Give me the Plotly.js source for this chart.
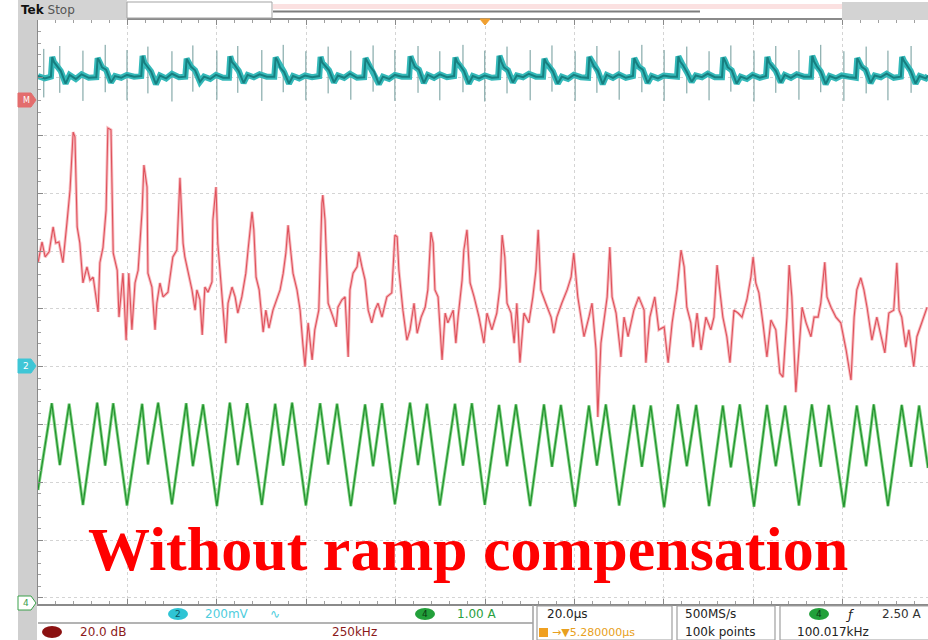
<!DOCTYPE html>
<html><head><meta charset="utf-8">
<script src="https://cdn.plot.ly/plotly-3.0.1.min.js"></script>
<style>html,body{margin:0;padding:0;background:#fff;}#chart{width:928px;height:640px;}</style>
</head><body><div id="chart"></div>
<script>
// ---------- data (time in µs, level in screen divisions) ----------
const tealT = [0, 1.5,
 2.9, 3.2, 3.6, 4.2, 5.1, 6.2, 7.1, 8.5, 9.8, 11.4,
 13.1, 13.4, 13.8, 14.4, 15.3, 16.4, 17.3, 18.7, 20.0, 21.6,
 23.2, 23.5, 23.9, 24.5, 25.4, 26.5, 27.4, 28.8, 30.1, 31.7,
 33.1, 33.4, 33.8, 34.4, 35.3, 36.4, 37.3, 38.7, 40.0, 41.6,
 42.9, 43.2, 43.6, 44.2, 45.1, 46.2, 47.1, 48.5, 49.8, 51.4,
 53.1, 53.4, 53.8, 54.4, 55.3, 56.4, 57.3, 58.7, 60.0, 61.6,
 63.2, 63.5, 63.9, 64.5, 65.4, 66.5, 67.4, 68.8, 70.1, 71.7,
 73.3, 73.6, 74.0, 74.6, 75.5, 76.6, 77.5, 78.9, 80.2, 81.8,
 83.4, 83.7, 84.1, 84.7, 85.6, 86.7, 87.6, 89.0, 90.3, 91.9,
 93.5, 93.8, 94.2, 94.8, 95.7, 96.8, 97.7, 99.1, 100.4, 102.0,
 103.4, 103.7, 104.1, 104.7, 105.6, 106.7, 107.6, 109.0, 110.3, 111.9,
 113.5, 113.8, 114.2, 114.8, 115.7, 116.8, 117.7, 119.1, 120.4, 122.0,
 123.6, 123.9, 124.3, 124.9, 125.8, 126.9, 127.8, 129.2, 130.5, 132.1,
 133.7, 134.0, 134.4, 135.0, 135.9, 137.0, 137.9, 139.3, 140.6, 142.2,
 143.6, 143.9, 144.3, 144.9, 145.8, 146.9, 147.8, 149.2, 150.5, 152.1,
 153.7, 154.0, 154.4, 155.0, 155.9, 157.0, 157.9, 159.3, 160.6, 162.2,
 163.6, 163.9, 164.3, 164.9, 165.8, 166.9, 167.8, 169.2, 170.5, 172.1,
 173.7, 174.0, 174.4, 175.0, 175.9, 177.0, 177.9, 179.3, 180.6, 182.2,
 183.8, 184.1, 184.5, 185.1, 186.0, 187.1, 188.0, 189.4, 190.7, 192.3,
 193.9, 194.2, 194.6, 195.2, 196.1, 197.2, 198.1, 199.5, 200.0];
const tealV = [4.03, 3.99,
 4.02, 4.36, 4.27, 4.21, 4.12, 3.90, 4.05, 3.98, 4.06, 4.00,
 4.01, 4.34, 4.29, 4.18, 4.14, 3.92, 4.03, 4.00, 4.05, 4.02,
 4.03, 4.38, 4.26, 4.20, 4.11, 3.89, 4.04, 3.99, 4.07, 4.01,
 4.02, 4.33, 4.28, 4.19, 4.13, 3.93, 4.02, 3.98, 4.05, 4.00,
 4.00, 4.37, 4.27, 4.22, 4.12, 3.91, 4.05, 4.01, 4.06, 4.02,
 4.02, 4.35, 4.30, 4.18, 4.10, 3.90, 4.03, 3.99, 4.04, 4.01,
 4.03, 4.36, 4.26, 4.21, 4.13, 3.92, 4.04, 4.00, 4.07, 4.00,
 4.01, 4.34, 4.28, 4.20, 4.11, 3.89, 4.02, 3.98, 4.05, 4.02,
 4.02, 4.37, 4.29, 4.19, 4.14, 3.91, 4.05, 4.00, 4.06, 4.01,
 4.03, 4.35, 4.27, 4.22, 4.12, 3.90, 4.03, 3.99, 4.04, 4.00,
 4.01, 4.38, 4.28, 4.18, 4.13, 3.92, 4.04, 4.01, 4.07, 4.02,
 4.02, 4.33, 4.26, 4.21, 4.11, 3.90, 4.02, 3.98, 4.05, 4.01,
 4.00, 4.36, 4.30, 4.20, 4.12, 3.89, 4.05, 4.00, 4.06, 4.00,
 4.03, 4.34, 4.27, 4.19, 4.14, 3.91, 4.03, 3.99, 4.04, 4.02,
 4.02, 4.37, 4.28, 4.22, 4.10, 3.93, 4.04, 4.01, 4.07, 4.01,
 4.01, 4.35, 4.29, 4.18, 4.13, 3.90, 4.02, 3.98, 4.05, 4.00,
 4.03, 4.36, 4.26, 4.21, 4.12, 3.92, 4.05, 4.00, 4.06, 4.02,
 4.02, 4.38, 4.28, 4.20, 4.11, 3.89, 4.03, 3.99, 4.04, 4.01,
 4.00, 4.34, 4.27, 4.19, 4.14, 3.91, 4.04, 4.01, 4.07, 4.00,
 4.02, 4.36, 4.29, 4.22, 4.12, 3.90, 4.03, 3.99, 4.04];
const spikeT  = [1.3, 4.9, 10.1, 15.1, 20.0, 24.7, 30.1, 34.8, 40.2, 44.9, 50.3, 55.1, 60.2, 65.2, 70.3, 75.3, 80.2, 85.4, 90.3, 95.5,
 100.4, 105.4, 110.6, 115.5, 120.7, 125.6, 130.6, 135.7, 140.7, 145.8, 150.8, 155.7, 160.9, 165.8, 171.0, 175.9, 181.1, 186.1, 191.0, 196.2];
const spikeLo = [3.66, 3.74, 3.60, 3.75, 3.61, 3.73, 3.59, 3.76, 3.62, 3.74, 3.60, 3.75, 3.61, 3.73, 3.62, 3.76, 3.60, 3.74, 3.61, 3.75,
 3.59, 3.73, 3.61, 3.76, 3.60, 3.74, 3.62, 3.75, 3.60, 3.73, 3.61, 3.76, 3.59, 3.74, 3.62, 3.75, 3.60, 3.73, 3.61, 3.74];
const spikeHi = [4.50, 4.55, 4.47, 4.57, 4.48, 4.54, 4.46, 4.56, 4.47, 4.55, 4.48, 4.57, 4.46, 4.54, 4.47, 4.56, 4.48, 4.55, 4.46, 4.57,
 4.47, 4.54, 4.48, 4.56, 4.46, 4.55, 4.47, 4.57, 4.48, 4.54, 4.46, 4.56, 4.47, 4.55, 4.48, 4.57, 4.46, 4.54, 4.47, 4.55];

const redT = [0, 0.9, 1.6, 2.5, 3.4, 4.0, 4.7, 5.6, 6.5, 7.2,
 7.9, 8.3, 8.8, 9.4, 10.1, 11.0, 11.7, 12.4, 13.5, 13.9,
 14.6, 15.3, 15.7, 16.4, 16.9, 17.8, 18.2, 19.1, 19.8, 20.4,
 21.1, 21.8, 22.5, 23.4, 23.8, 24.5, 24.7, 25.6, 26.3, 26.7,
 27.4, 28.1, 29.2, 30.3, 31.2, 31.9, 32.6, 33.0, 34.6, 35.3,
 35.7, 36.4, 36.9, 37.5, 38.2, 39.1, 39.3, 40.0, 40.4, 41.3,
 42.2, 42.7, 43.6, 44.3, 44.9, 45.8, 46.7, 47.2, 48.1, 48.5,
 49.0, 49.7, 50.6, 51.2, 51.9, 52.8, 54.4, 55.1, 55.7, 56.2,
 56.6, 57.3, 58.2, 58.9, 59.5, 60.0, 60.7, 61.6, 62.2, 63.1,
 63.8, 64.0, 64.5, 65.2, 66.3, 67.0, 67.4, 68.3, 69.0, 69.7,
 70.1, 70.8, 71.7, 72.1, 72.8, 73.5, 74.2, 75.0, 75.7, 76.4,
 77.3, 78.4, 79.5, 80.2, 80.7, 81.1, 82.0, 82.9, 83.6, 84.5,
 85.2, 86.1, 87.0, 87.6, 88.3, 88.8, 89.2, 89.9, 90.8, 91.5,
 92.1, 93.3, 93.9, 94.4, 95.3, 95.7, 96.4, 97.1, 98.0, 99.1,
 100.2, 100.9, 102.0, 103.1, 103.8, 104.3, 104.9, 105.4, 106.3, 107.0,
 107.6, 108.3, 109.2, 110.3, 111.2, 111.9, 112.4, 113.0, 114.1, 115.3,
 115.9, 116.6, 117.7, 118.9, 119.8, 120.4, 121.3, 122.7, 123.8, 124.5,
 125.4, 125.8, 126.5, 127.2, 127.9, 128.5, 129.0, 129.9, 131.0, 131.7,
 132.6, 133.9, 135.0, 136.2, 136.6, 137.5, 138.6, 139.5, 140.7, 141.6,
 142.5, 143.6, 144.5, 145.2, 145.8, 146.7, 147.2, 148.1, 149.0, 150.1,
 151.2, 151.9, 152.6, 153.2, 153.9, 154.8, 155.5, 156.4, 157.3, 158.2,
 159.3, 160.2, 160.7, 161.3, 162.0, 162.9, 163.8, 164.7, 165.8, 166.7,
 167.4, 168.3, 168.8, 169.4, 170.3, 171.0, 171.7, 172.6, 173.7, 174.4,
 175.3, 175.9, 176.8, 177.3, 178.2, 179.3, 180.4, 181.6, 182.7, 183.4,
 184.0, 184.9, 185.6, 186.3, 187.4, 188.5, 190.3, 191.2, 192.3, 193.0,
 193.5, 194.1, 195.0, 195.7, 196.8, 197.5, 198.6, 199.8];
const redV = [0.80, 1.16, 0.90, 0.99, 1.42, 1.14, 1.16, 0.80, 1.49, 2.06,
 3.06, 2.98, 1.42, 1.14, 0.45, 0.73, 0.50, 0.55, -0.05, 0.80,
 1.06, 1.71, 3.13, 3.10, 0.97, 0.67, -0.14, 0.62, -0.54, 0.62,
 -0.36, 0.45, 0.67, 1.71, 2.49, 2.11, 0.62, 0.38, -0.36, 0.10,
 0.45, 0.21, 0.29, 0.90, 1.02, 2.27, 1.14, 0.90, 0.33, -0.02,
 0.33, 0.16, -0.45, 0.38, 0.29, 0.47, 1.54, 2.11, 1.14, 0.21,
 -0.59, 0.10, 0.38, 0.21, -0.07, 0.21, 0.62, 1.02, 1.68, 1.37,
 0.55, 0.33, -0.40, -0.02, -0.33, -0.02, 0.33, 0.62, 0.97, 1.45,
 1.14, 0.62, 0.33, -0.02, -0.59, -1.00, -0.24, -0.88, -0.36, -0.02,
 1.83, 1.97, 1.54, 0.10, -0.14, -0.31, 0.03, 0.16, 0.21, -0.83,
 0.33, 0.62, 0.73, 0.99, 0.73, 0.50, -0.02, -0.24, -0.02, 0.10,
 -0.14, 0.21, 0.28, 1.28, 1.25, 0.67, -0.02, -0.54, -0.36, 0.10,
 -0.42, -0.14, 0.03, 0.33, 1.33, 1.14, 0.33, 0.21, -0.88, -0.07,
 -0.24, -0.02, -0.59, -0.14, 0.50, 1.02, 1.37, 0.45, 0.21, -0.14,
 -0.59, -0.07, -0.36, -0.07, 0.38, 1.28, 0.90, 0.10, -0.07, -0.59,
 0.10, -0.93, -0.07, -0.24, 0.21, 0.67, 1.37, 0.33, 0.10, -0.14,
 -0.42, -0.14, 0.10, 0.33, 0.55, 0.97, 0.21, -0.48, -0.14, 0.10,
 -0.71, -1.87, -0.59, -0.14, 0.21, 1.07, 0.21, -0.07, -0.83, -0.14,
 -0.48, -0.02, 0.21, -0.02, -0.93, -0.14, 0.21, -0.36, -0.31, -0.93,
 -0.24, 0.33, 1.02, 0.73, 0.03, -0.24, -0.66, -0.07, -0.71, -0.14,
 -0.36, -0.14, 0.76, 0.33, -0.14, -0.48, -0.93, -0.02, -0.07, -0.14,
 0.16, 0.55, 0.90, 0.45, 0.28, -0.24, -0.83, -0.19, -0.36, -1.11,
 -1.18, -0.14, 0.76, 0.21, -1.44, -0.71, 0.03, -0.24, -0.48, -0.14,
 -0.14, 0.10, 0.81, 0.21, 0.03, -0.14, -0.24, -0.71, -1.23, -0.14,
 0.33, 0.54, 0.33, 0.03, -0.54, -0.14, -0.76, -0.07, -0.02, 0.80,
 -0.02, -0.14, -0.66, -0.36, -1.00, -0.48, -0.24, 0.03];

const greenT = [0,
 3.1, 4.9, 7.0, 10.1,   13.3, 15.1, 16.9, 20.0,   23.4, 24.7, 27.0, 30.1,   33.3, 34.8, 37.1, 40.2,
 43.1, 44.9, 47.0, 50.3,   53.3, 55.1, 57.1, 60.2,   63.4, 65.2, 67.2, 70.3,   73.5, 75.3, 77.3, 80.2,
 83.6, 85.4, 87.4, 90.3,   93.7, 95.5, 97.5, 100.4,  103.6, 105.4, 107.4, 110.6, 113.7, 115.5, 117.5, 120.7,
 123.8, 125.6, 127.6, 130.6, 133.9, 135.7, 137.7, 140.7, 143.8, 145.8, 147.9, 150.8, 153.9, 155.7, 157.7, 160.9,
 163.8, 165.8, 167.9, 171.0, 173.9, 175.9, 177.7, 181.1, 184.0, 186.1, 187.8, 191.0, 194.1, 196.2, 198.0, 200.0];
const greenV = [-3.13,
 -1.63, -2.70, -1.64, -3.39,  -1.62, -2.71, -1.63, -3.40,  -1.64, -2.69, -1.62, -3.38,  -1.63, -2.72, -1.65, -3.41,
 -1.62, -2.70, -1.63, -3.39,  -1.64, -2.71, -1.62, -3.40,  -1.63, -2.69, -1.64, -3.41,  -1.65, -2.72, -1.63, -3.38,
 -1.62, -2.70, -1.64, -3.40,  -1.64, -2.71, -1.63, -3.39,  -1.66, -2.72, -1.65, -3.41,  -1.65, -2.73, -1.66, -3.42,
 -1.67, -2.71, -1.65, -3.40,  -1.66, -2.73, -1.67, -3.43,  -1.65, -2.72, -1.66, -3.41,  -1.67, -2.74, -1.65, -3.42,
 -1.66, -2.72, -1.67, -3.40,  -1.65, -2.73, -1.66, -3.43,  -1.67, -2.72, -1.65, -3.41,  -1.66, -2.73, -1.67, -2.75];

const captionText = 'Without ramp compensation';

// ---------- page geometry helpers (for the scope chrome only) ----------
const W = 928, H = 640, ML = 38, MT = 20, MB = 36;
const PX = px => (px - ML) / (W - ML);
const PY = py => (H - MB - py) / (H - MT - MB);

const spX = [], spY = [];
spikeT.forEach((t, i) => { spX.push(t, t, null); spY.push(spikeLo[i], spikeHi[i], null); });

const traces = [
 {x: spX, y: spY, type: 'scatter', mode: 'lines', line: {color: '#6f9a9a', width: 1}, hoverinfo: 'skip'},
 {x: tealT, y: tealV, type: 'scatter', mode: 'lines', line: {color: '#34b9b9', width: 6}, hoverinfo: 'skip'},
 {x: tealT, y: tealV, type: 'scatter', mode: 'lines', line: {color: '#177f80', width: 2}, hoverinfo: 'skip'},
 {x: redT, y: redV, type: 'scatter', mode: 'lines', line: {color: '#f7bcc0', width: 3}, hoverinfo: 'skip'},
 {x: redT, y: redV, type: 'scatter', mode: 'lines', line: {color: '#df525c', width: 1.1}, hoverinfo: 'skip'},
 {x: greenT, y: greenV, type: 'scatter', mode: 'lines', line: {color: '#7cd37f', width: 3}, hoverinfo: 'skip'},
 {x: greenT, y: greenV, type: 'scatter', mode: 'lines', line: {color: '#23902f', width: 1.2}, hoverinfo: 'skip'}
];

const R = (x0, x1, y0, y1, fill, lc, lw) => ({type: 'rect', xref: 'paper', yref: 'paper', x0: PX(x0), x1: PX(x1), y0: PY(y1), y1: PY(y0),
  fillcolor: fill, line: {color: lc || fill, width: lw === undefined ? 0 : lw}});
const Ln = (x0, y0, x1, y1, c, w) => ({type: 'line', xref: 'paper', yref: 'paper', x0: PX(x0), x1: PX(x1), y0: PY(y0), y1: PY(y1), line: {color: c, width: w}});
const E = (cx, cy, rx, ry, fill) => ({type: 'circle', xref: 'paper', yref: 'paper', x0: PX(cx - rx), x1: PX(cx + rx), y0: PY(cy + ry), y1: PY(cy - ry), fillcolor: fill, line: {width: 0}});
const Tag = (cy, fill, lc) => ({type: 'path', xref: 'paper', yref: 'paper',
  path: `M ${PX(18)} ${PY(cy - 7)} L ${PX(31)} ${PY(cy - 7)} L ${PX(36)} ${PY(cy)} L ${PX(31)} ${PY(cy + 7)} L ${PX(18)} ${PY(cy + 7)} Z`,
  fillcolor: fill, line: {color: lc || fill, width: 1}});

const shapes = [
 R(18, 37, 0, 640, '#cfcfcf'),
 R(18, 127, 0, 20, '#d3d3d3'),
 R(127, 272, 2, 18, '#ffffff', '#a3a3a3', 1),
 R(273, 842, 4, 9, '#fbe1e1'),
 Ln(273, 11.5, 700, 11.5, '#7d7d7d', 2),
 R(842, 928, 2, 20, '#d3d3d3'),
 {type: 'path', xref: 'paper', yref: 'paper', path: `M ${PX(480)} ${PY(19)} L ${PX(490)} ${PY(19)} L ${PX(485)} ${PY(25)} Z`, fillcolor: '#f0a030', line: {color: '#f0a030', width: 1}},
 Tag(100, '#e36d6d'),
 Tag(366, '#3fc6d6'),
 Tag(603, '#ffffff', '#3aa04a'),
 Ln(38, 623, 533, 623, '#9a9a9a', 1.5),
 Ln(533, 605, 533, 640, '#a0a0a0', 1.5),
 R(537, 672, 606, 640, 'rgba(0,0,0,0)', '#a0a0a0', 1.2),
 R(677, 775, 606, 640, 'rgba(0,0,0,0)', '#a0a0a0', 1.2),
 R(780, 930, 606, 640, 'rgba(0,0,0,0)', '#a0a0a0', 1.2),
 E(178, 614, 10, 6, '#2ec4d4'),
 E(425, 614, 10, 6, '#22a03a'),
 E(52, 632, 10, 6, '#8b1111'),
 E(819, 614, 10, 6, '#22a03a'),
 R(539, 548, 628, 637, '#f0a020')
];

const A = (text, px, py, color, size, opts) => Object.assign({text: text, xref: 'paper', yref: 'paper', x: PX(px), y: PY(py),
  showarrow: false, xanchor: 'left', yanchor: 'middle', font: {family: 'DejaVu Sans', size: size || 12, color: color}}, opts || {});

const annotations = [
 A('<b>Tek</b> <span style="color:#555">Stop</span>', 19, 10, '#111', 12),
 A('M', 26, 100, '#ffffff', 8, {xanchor: 'center'}),
 A('2', 26, 366, '#ffffff', 9, {xanchor: 'center'}),
 A('4', 26, 603, '#3aa04a', 9, {xanchor: 'center'}),
 A('2', 178, 614, '#0b5560', 9, {xanchor: 'center'}),
 A('200mV', 203, 614, '#4fcddd', 12),
 A('∿', 268, 614, '#4fcddd', 12),
 A('4', 425, 614, '#0b3a12', 9, {xanchor: 'center'}),
 A('1.00 A', 455, 614, '#2aa040', 12),
 A('20.0µs', 545, 614, '#222222', 12),
 A('→▼5.280000µs', 550, 632, '#e8a020', 11),
 A('500MS/s', 683, 614, '#222222', 12),
 A('100k points', 683, 632, '#222222', 12),
 A('4', 819, 614, '#0b3a12', 9, {xanchor: 'center'}),
 A('<i>ƒ</i>', 843, 614, '#222222', 13),
 A('2.50 A', 880, 614, '#333333', 12),
 A('100.017kHz', 795, 632, '#222222', 12),
 A('20.0 dB', 78, 632, '#8b1a1a', 12),
 A('250kHz', 330, 632, '#8b1a1a', 12),
 {text: captionText, xref: 'paper', yref: 'paper', x: PX(467.5), y: PY(549), showarrow: false, xanchor: 'center', yanchor: 'middle',
  font: {family: 'Liberation Serif', size: 62, color: '#ff0000', weight: 'bold'}}
];

const layout = {
 width: W, height: H,
 margin: {l: ML, r: 0, t: MT, b: MB, pad: 0},
 paper_bgcolor: '#ffffff', plot_bgcolor: '#ffffff',
 showlegend: false,
 font: {family: 'DejaVu Sans'},
 xaxis: {range: [0, 200], tick0: 0, dtick: 20.09, showgrid: true, gridcolor: '#d4d4d4', griddash: 'dot', gridwidth: 1,
   zeroline: false, showticklabels: false, ticks: 'inside', ticklen: 5, tickcolor: '#8a8a8a',
   showline: true, linecolor: '#8a8a8a', linewidth: 2, mirror: 'ticks',
   minor: {dtick: 4.018, ticks: 'inside', ticklen: 3, tickcolor: '#a0a0a0', showgrid: false}, fixedrange: true},
 yaxis: {range: [-5.104, 5], tick0: 0, dtick: 1, showgrid: true, gridcolor: '#d4d4d4', griddash: 'dot', gridwidth: 1,
   zeroline: false, showticklabels: false, ticks: 'inside', ticklen: 5, tickcolor: '#8a8a8a',
   showline: true, linecolor: '#8a8a8a', linewidth: 2,
   minor: {dtick: 0.2, ticks: 'inside', ticklen: 3, tickcolor: '#a0a0a0', showgrid: false}, fixedrange: true},
 shapes: shapes,
 annotations: annotations
};

Plotly.newPlot('chart', traces, layout, {staticPlot: true, displayModeBar: false});
</script>
</body></html>
